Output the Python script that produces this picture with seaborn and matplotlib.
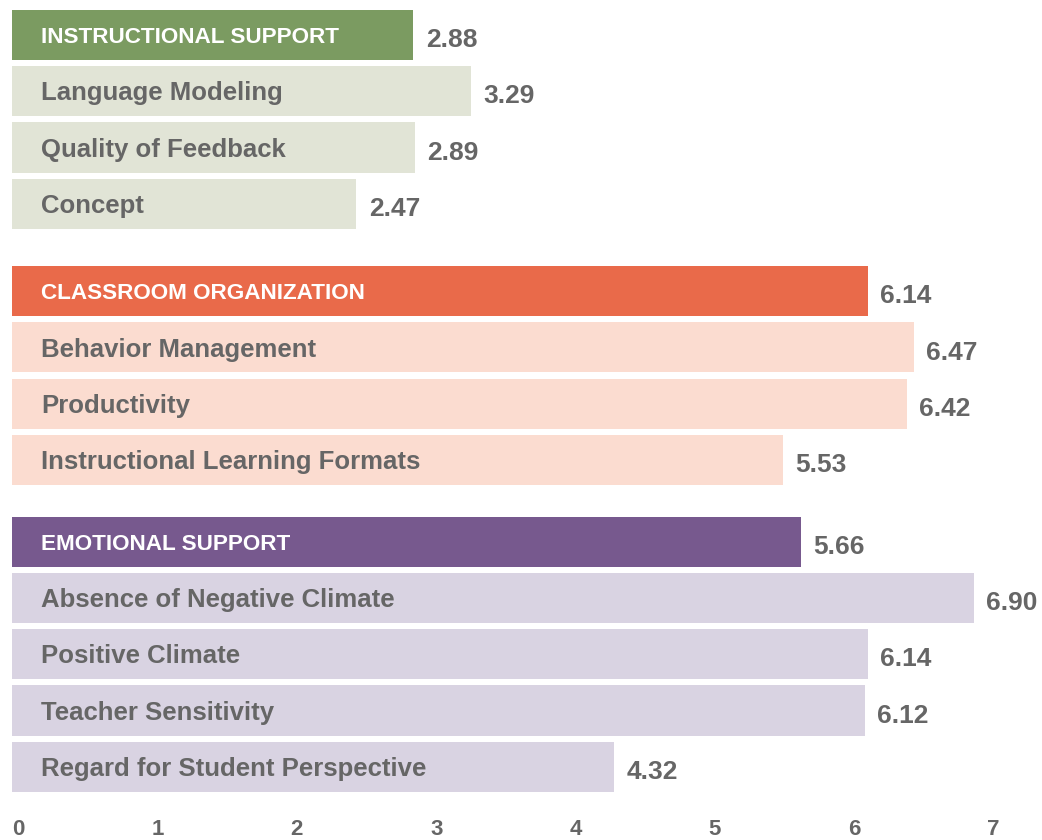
import pandas as pd
import matplotlib.pyplot as plt
import matplotlib.transforms as mtrans
import seaborn as sns

# domains and their dimensions (header first in each group)
groups = ["instructional", "organization", "emotional"]
labels = [
    ["INSTRUCTIONAL SUPPORT", "Language Modeling", "Quality of Feedback", "Concept"],
    ["CLASSROOM ORGANIZATION", "Behavior Management", "Productivity",
     "Instructional Learning Formats"],
    ["EMOTIONAL SUPPORT", "Absence of Negative Climate", "Positive Climate",
     "Teacher Sensitivity", "Regard for Student Perspective"],
]
scores = [
    [2.88, 3.29, 2.89, 2.47],
    [6.14, 6.47, 6.42, 5.53],
    [5.66, 6.90, 6.14, 6.12, 4.32],
]
header_colors = {"instructional": "#7b9b61", "organization": "#e96a4a", "emotional": "#77598e"}
light_colors = {"instructional": "#e1e4d6", "organization": "#fbdcd0", "emotional": "#d9d3e2"}
group_gaps = [0.55, 0.45, 0]

# build table with numeric positions (gap between groups)
rows = []
pos = 0.0
for g, labs, vals, gap in zip(groups, labels, scores, group_gaps):
    for i, (lab, v) in enumerate(zip(labs, vals)):
        key = g + ("_head" if i == 0 else "_sub")
        rows.append({"label": lab, "score": v, "pos": pos, "key": key, "head": i == 0})
        pos += 1
    pos += gap
df = pd.DataFrame(rows)

palette = {}
for g in groups:
    palette[g + "_head"] = header_colors[g]
    palette[g + "_sub"] = light_colors[g]

sns.set_style("white")
plt.rcParams["font.family"] = ["Liberation Sans", "DejaVu Sans"]

fig = plt.figure(figsize=(10.42, 8.40), dpi=100)
ax = fig.add_axes([12 / 1042, 40 / 840, 1 - 12 / 1042, 800 / 840])

sns.barplot(data=df, x="score", y="pos", hue="key", palette=palette, orient="h",
            native_scale=True, dodge=False, width=0.89, legend=False,
            saturation=1, linewidth=0, ax=ax)

gray = "#666666"
CAP = 0.716  # cap height / em for Arial-like fonts
for _, r in df.iterrows():
    fs = 16.2 if r["head"] else 18.5
    ax.annotate(r["label"], (0.21, r["pos"]), xytext=(0, -CAP * fs / 2),
                textcoords="offset points", va="baseline", ha="left",
                fontsize=fs, fontweight="bold",
                color="white" if r["head"] else gray)
    vfs = 19
    ax.annotate(f"{r['score']:.2f}", (r["score"], r["pos"]),
                xytext=(9, -CAP * vfs / 2 - 2), textcoords="offset points",
                va="baseline", ha="left", fontsize=vfs, fontweight="bold", color=gray)

ax.set_xlim(0, 7.39)
ax.set_ylim(13.59, -0.62)
ax.set_xticks(range(8))
ax.set_xticklabels([str(t) for t in range(8)], fontsize=16, fontweight="bold", color=gray)
ax.tick_params(axis="x", length=0, pad=14)
shift = mtrans.ScaledTranslation(6 / 100, 0, fig.dpi_scale_trans)
for lab in ax.get_xticklabels():
    lab.set_transform(lab.get_transform() + shift)
ax.set_yticks([])
ax.set_xlabel("")
ax.set_ylabel("")
sns.despine(ax=ax, left=True, bottom=True)

fig.savefig("out.png", dpi=100)
